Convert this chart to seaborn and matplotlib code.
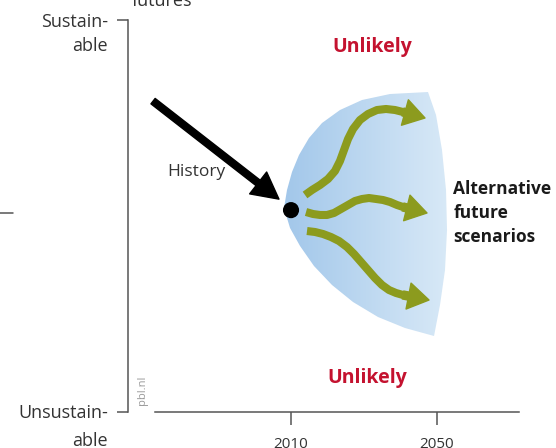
import numpy as np
import pandas as pd
import seaborn as sns
import matplotlib.pyplot as plt
from matplotlib.patches import Polygon

sns.set_theme(style='white')
plt.rcParams['font.family'] = ['Open Sans', 'DejaVu Sans']

# scenario sketch, x in years, y on a 0 (unsustainable) .. 100 (sustainable) scale
now_year = [2010.0]
now_score = [51.5]

history_start = (1972.2, 79.3)
history_end = (2006.7, 54.3)

top_year = [2013.84, 2015.75, 2017.95, 2020.14, 2022.05, 2023.42, 2024.52, 2025.62,
            2026.99, 2028.90, 2031.10, 2033.56, 2036.03, 2038.49, 2040.68]
top_score = [55.36, 56.63, 57.91, 59.44, 61.48, 64.03, 66.84, 69.64,
             72.19, 74.49, 76.02, 77.04, 77.30, 77.04, 76.53]
top_tip = (2046.71, 75.00)

mid_year = [2014.11, 2016.03, 2017.95, 2019.86, 2021.78, 2023.70, 2025.62, 2027.53,
            2029.45, 2031.37, 2033.29, 2035.21, 2037.12, 2039.04, 2040.68]
mid_score = [51.02, 50.51, 50.26, 50.26, 50.77, 51.79, 52.81, 53.83,
             54.34, 54.59, 54.34, 54.08, 53.57, 52.81, 52.30]
mid_tip = (2047.26, 50.77)

low_year = [2014.38, 2016.58, 2018.77, 2020.96, 2023.15, 2025.34, 2027.26, 2029.18,
            2031.10, 2033.01, 2034.93, 2036.85, 2038.77, 2040.68]
low_score = [46.17, 45.92, 45.41, 44.64, 43.62, 42.09, 40.31, 38.27,
             36.22, 34.18, 32.40, 31.12, 30.36, 29.85]
low_tip = (2047.81, 28.57)

fan_year = [2008.08, 2008.90, 2010.27, 2012.19, 2014.93, 2018.49, 2023.42, 2029.45, 2037.12,
            2047.53, 2049.73, 2051.37, 2052.47, 2052.74, 2052.19, 2050.82, 2049.18,
            2041.23, 2033.84, 2026.99, 2021.23, 2016.30, 2012.47, 2009.73]
fan_score = [52.04, 56.63, 61.22, 65.56, 69.90, 73.72, 77.04, 79.59, 81.12,
             81.63, 75.77, 66.84, 56.63, 46.43, 36.22, 27.30, 19.39,
             21.43, 24.23, 28.06, 32.40, 37.24, 42.35, 46.94]

tick_years = [2010, 2050]

green = '#8c9b1e'
red = '#c4122f'
axis_grey = '#555555'
text_grey = '#333333'

fig = plt.figure(figsize=(5.56, 4.48), dpi=100)
ax = fig.add_axes([0, 0, 1, 1])

# blue cone of possible futures, horizontal gradient
fan = Polygon(np.column_stack([fan_year, fan_score]), closed=True,
              facecolor='none', edgecolor='none')
ax.add_patch(fan)
grad = np.linspace(0, 1, 256).reshape(1, -1)
cmap = sns.blend_palette(['#a2c7ea', '#d8e9f7'], as_cmap=True)
img = ax.imshow(grad, cmap=cmap, aspect='auto', interpolation='bicubic',
                extent=(min(fan_year), max(fan_year), min(fan_score), max(fan_score)),
                origin='lower', zorder=1)
img.set_clip_path(fan)

# history arrow
ax.annotate('', xy=history_end, xytext=history_start,
            arrowprops=dict(arrowstyle='simple,head_length=1.0,head_width=1.05,tail_width=0.26',
                            color='black', mutation_scale=19, shrinkA=0, shrinkB=0),
            zorder=4)

# scenario paths
paths = pd.concat([
    pd.DataFrame({'year': top_year, 'score': top_score, 'path': 'top'}),
    pd.DataFrame({'year': mid_year, 'score': mid_score, 'path': 'mid'}),
    pd.DataFrame({'year': low_year, 'score': low_score, 'path': 'low'}),
])
sns.lineplot(data=paths, x='year', y='score', hue='path', estimator=None, sort=False,
             palette=[green] * 3, linewidth=5.8, legend=False, ax=ax, zorder=3,
             solid_capstyle='butt', solid_joinstyle='round')
for yrs, scs, tip in [(top_year, top_score, top_tip),
                      (mid_year, mid_score, mid_tip),
                      (low_year, low_score, low_tip)]:
    ax.annotate('', xy=tip, xytext=(yrs[-1], scs[-1]),
                arrowprops=dict(arrowstyle='simple,head_length=0.75,head_width=0.95,tail_width=0.29',
                                color=green, mutation_scale=20, shrinkA=0, shrinkB=0),
                zorder=3)

sns.scatterplot(x=now_year, y=now_score, s=135, color='black', edgecolor='none',
                ax=ax, zorder=5)

# axes
ax.set_xlim(1930.27, 2082.60)
ax.set_ylim(-9.18, 105.10)
ax.spines['top'].set_visible(False)
ax.spines['right'].set_visible(False)
ax.spines['left'].set_position(('data', 1965.3))
ax.spines['left'].set_bounds(0, 100)
ax.spines['bottom'].set_position(('data', 0))
ax.spines['bottom'].set_bounds(1972.7, 2072.5)
for side in ['left', 'bottom']:
    ax.spines[side].set_color(axis_grey)
    ax.spines[side].set_linewidth(1.1)
ax.set_xticks(tick_years)
ax.set_xticklabels([str(y) for y in tick_years])
ax.set_yticks([0, 100])
ax.set_yticklabels(['', ''])
ax.tick_params(axis='x', direction='out', length=9.4, width=1.1, color=axis_grey,
               pad=8.5, labelsize=11, labelcolor=text_grey, bottom=True)
ax.tick_params(axis='y', direction='out', length=8, width=1.1, color=axis_grey, left=True)
ax.set_xlabel('')
ax.set_ylabel('')

# labels
ax.text(1959.9, 98.3, 'Sustain-', ha='right', va='baseline', fontsize=13, color=text_grey)
ax.text(1959.9, 92.1, 'able', ha='right', va='baseline', fontsize=13, color=text_grey)
ax.text(1959.9, -1.5, 'Unsustain-', ha='right', va='baseline', fontsize=13, color=text_grey)
ax.text(1959.9, -8.7, 'able', ha='right', va='baseline', fontsize=13, color=text_grey)
ax.text(1974.7, 103.6, 'futures', ha='center', va='baseline', fontsize=13, color=text_grey)
ax.text(1984.0, 60.2, 'History', ha='center', va='baseline', fontsize=12.5, color=text_grey)
ax.text(2054.5, 50.8, 'Alternative\nfuture\nscenarios', ha='left', va='center',
        fontsize=12.5, fontweight='bold', color='#1a1a1a', linespacing=1.45)
ax.text(2032.2, 93.1, 'Unlikely', ha='center', va='center', fontsize=14,
        fontweight='bold', color=red)
ax.text(2030.8, 8.7, 'Unlikely', ha='center', va='center', fontsize=14,
        fontweight='bold', color=red)
ax.text(1969.3, 5.6, 'pbl.nl', ha='center', va='center', rotation=90, fontsize=8,
        color='#9a9a9a')
ax.plot([0, 0.023], [0.525, 0.525], transform=ax.transAxes, color=axis_grey, lw=1.1)

plt.savefig('out.png', dpi=100)
